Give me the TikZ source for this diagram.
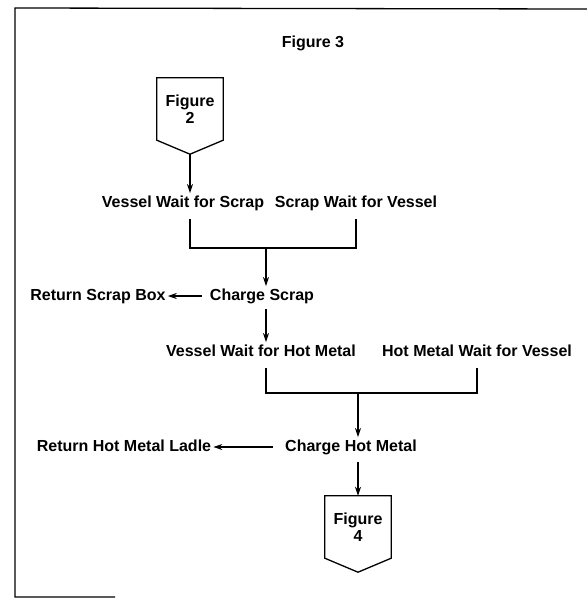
\documentclass[tikz,border=0pt]{standalone}
\usepackage{fontspec}
\setmainfont{Liberation Sans}
\usetikzlibrary{arrows.meta, positioning, calc}

\tikzset{
  lbl/.style={font=\bfseries\fontsize{16}{17.5}\selectfont, inner sep=2pt,
    text height=12pt, text depth=3.5pt},
  link/.style={line width=1.3pt},
  flow/.style={link, -{Stealth[length=9pt, width=6pt]}},
  tabbox/.style={font=\bfseries\fontsize{16}{17.5}\selectfont, align=center,
    minimum width=66pt, minimum height=62pt, inner sep=0pt},
}

\begin{document}
\begin{tikzpicture}[x=1pt, y=-1pt]
\useasboundingbox (0,0) rectangle (587,598);
% open frame as scanned
\draw[link] (115,597) -- (15,597) -- (15,8) -- (587,9);
\node[lbl] (title) at (313,43) {Figure 3};

% off-page tab from figure 2
\node[tabbox] (fig2) at (190,109) {Figure\\2};
\coordinate (fig2tip) at ($(fig2.south)+(0,14)$);
\draw[link] (fig2.north west) -- (fig2.north east) -- (fig2.south east)
  -- (fig2tip) -- (fig2.south west) -- cycle;

\node[lbl] (vws) at (183,203) {Vessel Wait for Scrap};
\node[lbl] (swv) at (356,203) {Scrap Wait for Vessel};
\draw[flow] (fig2tip) -- (fig2tip |- vws.north);

\coordinate (join1) at (266,248);
\draw[link] ([yshift=-6pt]vws.south -| 190,0) |- (join1) -| ([yshift=-6pt]swv.south);

\node[lbl] (chs) at (262,296) {Charge Scrap};
\node[lbl] (rsb) at (98,296) {Return Scrap Box};
\draw[flow] (join1) -- (join1 |- chs.north);
\draw[flow, shorten <=6pt] (chs.west) -- (rsb.east);

\node[lbl] (vwh) at (261,352) {Vessel Wait for Hot Metal};
\node[lbl] (hwv) at (477,352) {Hot Metal Wait for Vessel};
\draw[flow, shorten <=3pt] (chs.south -| join1) -- (vwh.north -| join1);

\coordinate (join2) at (358,393);
\draw[link] ([yshift=-6pt]vwh.south -| join1) |- (join2) -| ([yshift=-6pt]hwv.south);

\node[lbl] (chm) at (351,447) {Charge Hot Metal};
\node[lbl] (rhl) at (124,447) {Return Hot Metal Ladle};
\draw[flow] (join2) -- (join2 |- chm.north);
\draw[flow, shorten <=10pt] (chm.west) -- (rhl.east);

% off-page tab to figure 4
\node[tabbox] (fig4) at (358,527) {Figure\\4};
\coordinate (fig4tip) at ($(fig4.south)+(0,14)$);
\draw[link] (fig4.north west) -- (fig4.north east) -- (fig4.south east)
  -- (fig4tip) -- (fig4.south west) -- cycle;
\draw[flow, shorten <=5pt] (chm.south -| join2) -- (fig4.north);
\end{tikzpicture}
\end{document}
